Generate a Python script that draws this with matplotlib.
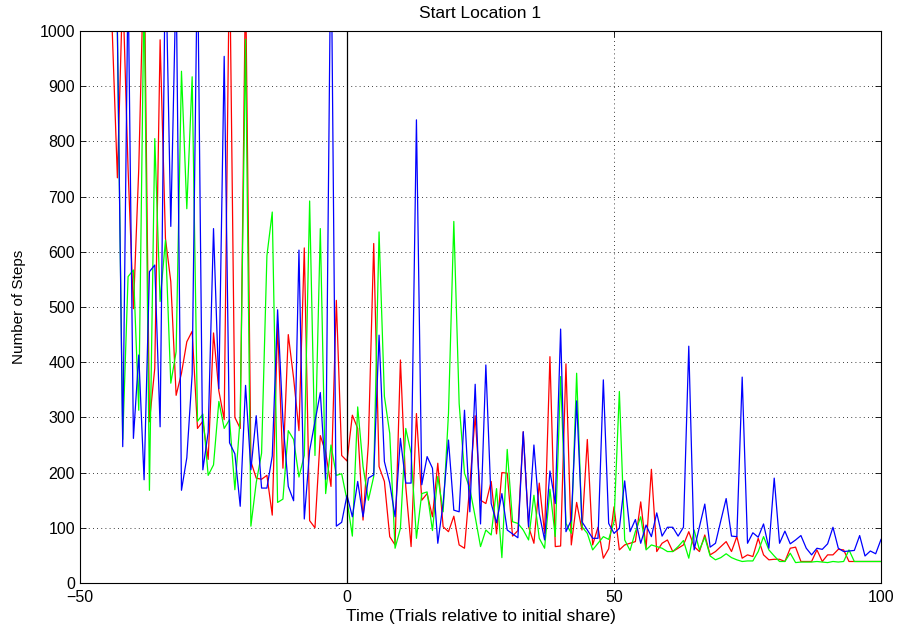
import numpy as np
import matplotlib
matplotlib.use("Agg")
import matplotlib.pyplot as plt

plt.rcParams["font.family"] = ["Liberation Sans", "DejaVu Sans"]

# steps per trial, red run starts one trial earlier than the other two
red_start = -44
red_steps = [
    1010, 734, 1080, 750, 497, 750, 1150, 292, 389, 984,
    624, 546, 340, 380, 437, 456, 280, 293, 224, 453,
    348, 296, 1150, 300, 280, 1100, 220, 190, 188, 195,
    123, 469, 208, 450, 371, 276, 607, 113, 100, 267,
    237, 175, 512, 231, 221, 304, 280, 114, 253, 615,
    211, 184, 84, 69, 404, 175, 66, 307, 150, 162,
    120, 217, 102, 93, 121, 69, 63, 178, 303, 150,
    144, 184, 89, 200, 199, 85, 95, 274, 102, 72,
    181, 90, 410, 66, 67, 397, 69, 146, 96, 260,
    69, 101, 45, 62, 138, 60, 69, 72, 75, 147,
    63, 206, 57, 72, 78, 57, 63, 69, 93, 66,
    57, 87, 51, 57, 66, 75, 57, 84, 45, 51,
    48, 81, 51, 42, 43, 43, 39, 63, 65, 39,
    39, 39, 60, 39, 51, 51, 61, 60, 39, 39,
    39, 39, 39, 39, 39,
]

green_start = -43
green_steps = [
    1000, 260, 555, 567, 313, 1080, 168, 805, 510, 621,
    362, 419, 927, 678, 917, 293, 306, 195, 214, 329,
    280, 296, 169, 300, 985, 103, 182, 235, 593, 672,
    146, 152, 276, 260, 192, 231, 692, 231, 642, 162,
    250, 195, 198, 150, 85, 319, 211, 150, 193, 636,
    338, 271, 63, 99, 280, 235, 81, 162, 165, 95,
    193, 129, 307, 655, 325, 199, 171, 120, 66, 96,
    87, 171, 46, 242, 111, 108, 96, 78, 159, 81,
    63, 170, 84, 374, 108, 90, 380, 102, 90, 60,
    72, 84, 79, 111, 347, 78, 59, 93, 120, 60,
    69, 66, 63, 57, 57, 66, 77, 45, 96, 60,
    83, 49, 42, 46, 53, 46, 42, 39, 40, 40,
    57, 84, 60, 49, 39, 39, 54, 37, 38, 38,
    38, 39, 38, 37, 39, 38, 39, 60, 39, 39,
    39, 39, 39, 39,
]

blue_start = -43
blue_steps = [
    1000, 247, 1100, 262, 413, 187, 564, 576, 283, 1150,
    646, 1100, 168, 227, 378, 1150, 205, 273, 642, 352,
    954, 254, 234, 139, 358, 205, 303, 172, 172, 230,
    495, 293, 175, 149, 603, 116, 240, 293, 345, 188,
    1200, 103, 110, 159, 120, 184, 120, 190, 196, 449,
    220, 181, 120, 262, 181, 181, 839, 178, 229, 208,
    72, 144, 259, 132, 129, 313, 129, 360, 107, 395,
    144, 109, 162, 96, 89, 82, 274, 102, 250, 126,
    78, 203, 144, 460, 93, 114, 330, 111, 96, 81,
    81, 368, 108, 90, 99, 185, 93, 115, 72, 105,
    84, 127, 85, 101, 101, 85, 101, 429, 60, 102,
    143, 65, 72, 113, 153, 85, 84, 373, 72, 91,
    83, 107, 63, 190, 72, 94, 71, 78, 86, 63,
    51, 63, 61, 71, 101, 63, 57, 58, 59, 86,
    49, 58, 53, 79,
]

x_ticks = [-50, 0, 50, 100]
y_ticks = list(range(0, 1001, 100))


def trials(start, values):
    return np.arange(start, start + len(values))


fig = plt.figure(figsize=(8.99, 6.32), dpi=100)
ax = fig.add_axes([0.089, 0.0775, 0.891, 0.8735])

ax.plot(trials(red_start, red_steps), red_steps, color=(1, 0, 0), lw=0.9)
ax.plot(trials(green_start, green_steps), green_steps, color=(0, 1, 0), lw=0.9)
ax.plot(trials(blue_start, blue_steps), blue_steps, color=(0, 0, 1), lw=0.9)
ax.axvline(0, color="black", lw=0.9)

ax.set_xlim(-50, 100)
ax.set_ylim(0, 1000)
ax.set_xticks(x_ticks)
ax.set_yticks(y_ticks)
ax.tick_params(direction="in", top=True, right=True, length=4, width=0.6,
               labelsize=11.5)
ax.tick_params(axis="x", pad=5)
ax.grid(True, color="black", linestyle=(0, (1, 4)), linewidth=0.6)
for s in ax.spines.values():
    s.set_linewidth(0.8)

ax.set_title("Start Location 1", fontsize=12.5, pad=9)
ax.set_xlabel("Time (Trials relative to initial share)", fontsize=12.5, labelpad=3)
ax.set_ylabel("Number of Steps", fontsize=11, labelpad=10)

fig.savefig("out.png", dpi=100)
